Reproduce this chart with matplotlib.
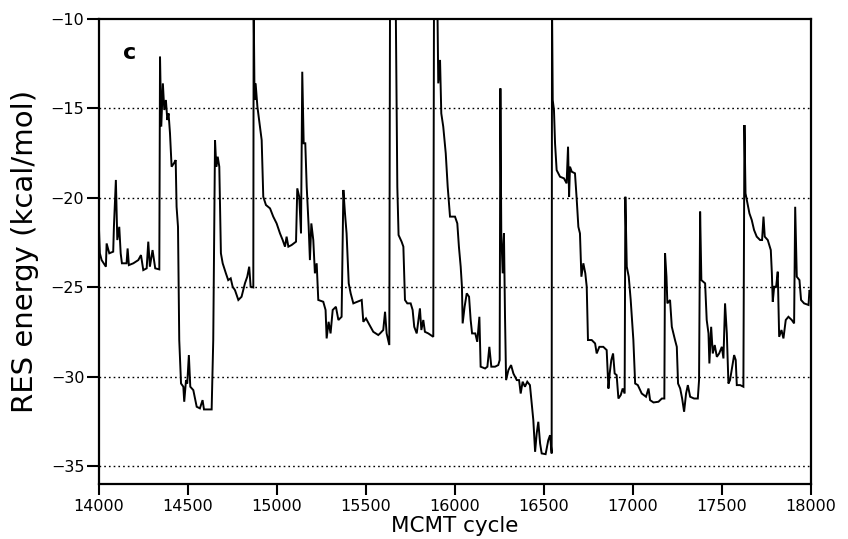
import matplotlib
matplotlib.use("Agg")
import matplotlib.pyplot as plt
import numpy as np

# MCMT cycle (x) and RES energy (kcal/mol) (y)
cycle = [
    14000, 14005, 14015, 14039, 14043, 14058, 14080, 14084, 14095, 14103,
    14114, 14122, 14129, 14155, 14161, 14168, 14193, 14221, 14236, 14249,
    14268, 14277, 14286, 14301, 14316, 14339, 14343, 14350, 14359, 14367,
    14376, 14384, 14391, 14399, 14408, 14421, 14431, 14436, 14444, 14451,
    14461, 14474, 14479, 14489, 14496, 14505, 14513, 14530, 14549, 14567,
    14582, 14590, 14633, 14642, 14652, 14659, 14667, 14676, 14685, 14695,
    14713, 14726, 14740, 14751, 14764, 14783, 14801, 14820, 14833, 14844,
    14852, 14867, 14869, 14874, 14880, 14890, 14904, 14914, 14923, 14938,
    14961, 14979, 14998, 15017, 15032, 15045, 15054, 15064, 15082, 15107,
    15114, 15125, 15135, 15142, 15150, 15159, 15167, 15178, 15185, 15193,
    15204, 15213, 15223, 15232, 15260, 15273, 15279, 15290, 15301, 15313,
    15331, 15345, 15363, 15373, 15382, 15391, 15403, 15414, 15429, 15451,
    15476, 15485, 15500, 15515, 15541, 15569, 15579, 15597, 15607, 15616,
    15631, 15635, 15667, 15676, 15683, 15700, 15710, 15719, 15732, 15751,
    15762, 15771, 15785, 15803, 15811, 15822, 15831, 15850, 15878, 15882,
    15901, 15906, 15916, 15923, 15934, 15948, 15959, 15972, 16000, 16013,
    16022, 16032, 16039, 16043, 16054, 16066, 16079, 16088, 16096, 16114,
    16125, 16137, 16144, 16169, 16182, 16193, 16204, 16225, 16243, 16251,
    16255, 16260, 16268, 16275, 16281, 16287, 16300, 16315, 16328, 16347,
    16360, 16369, 16380, 16393, 16406, 16421, 16431, 16440, 16450, 16459,
    16468, 16478, 16487, 16509, 16524, 16534, 16543, 16545, 16549, 16556,
    16562, 16571, 16590, 16612, 16627, 16635, 16641, 16646, 16656, 16674,
    16684, 16693, 16702, 16710, 16721, 16732, 16740, 16747, 16768, 16787,
    16796, 16811, 16833, 16852, 16862, 16869, 16878, 16888, 16897, 16908,
    16918, 16931, 16942, 16953, 16957, 16965, 16976, 16987, 17002, 17012,
    17027, 17049, 17073, 17087, 17096, 17115, 17143, 17162, 17176, 17180,
    17188, 17193, 17208, 17218, 17236, 17246, 17253, 17265, 17276, 17287,
    17298, 17308, 17321, 17343, 17364, 17371, 17377, 17384, 17405, 17414,
    17424, 17429, 17439, 17448, 17459, 17471, 17484, 17499, 17508, 17517,
    17527, 17536, 17545, 17557, 17568, 17577, 17583, 17602, 17620, 17626,
    17632, 17643, 17654, 17667, 17680, 17695, 17714, 17725, 17733, 17740,
    17757, 17774, 17780, 17785, 17793, 17804, 17813, 17821, 17834, 17845,
    17858, 17873, 17892, 17905, 17911, 17920, 17935, 17944, 17961, 17986,
    17991, 18000,
]
energy = [
    -21.7, -23.1, -23.48, -23.85, -22.55, -23.10, -23.01, -21.62, -19.00, -22.36,
    -21.62, -23.10, -23.66, -23.66, -22.83, -23.76, -23.66, -23.48, -23.20, -24.04,
    -23.94, -22.45, -23.85, -22.92, -23.94, -24.00, -12.11, -16.02, -13.60, -15.09,
    -14.53, -15.65, -15.28, -16.39, -18.26, -18.07, -17.89, -20.50, -21.62, -27.95,
    -30.38, -30.56, -31.40, -30.19, -30.38, -28.79, -30.56, -30.75, -31.68, -31.77,
    -31.31, -31.83, -31.83, -27.95, -16.77, -18.26, -17.70, -18.26, -23.10, -23.66,
    -24.22, -24.60, -24.50, -24.97, -25.16, -25.71, -25.53, -24.78, -24.41, -23.85,
    -24.97, -25.01, -9.0, -14.53, -13.60, -14.90, -16.02, -16.77, -19.94, -20.40,
    -20.59, -21.05, -21.43, -21.99, -22.36, -22.73, -22.17, -22.73, -22.64, -22.45,
    -19.47, -19.94, -21.99, -12.95, -16.95, -16.95, -19.38, -21.62, -23.48, -21.43,
    -22.36, -24.22, -23.66, -25.71, -25.81, -26.27, -27.86, -26.93, -27.58, -26.27,
    -26.09, -26.83, -26.65, -19.56, -20.87, -21.99, -24.78, -25.34, -25.90, -25.81,
    -25.71, -26.93, -26.74, -27.02, -27.49, -27.67, -27.58, -27.39, -26.37, -27.58,
    -28.23, -9.0, -9.0, -19.38, -22.08, -22.45, -22.73, -25.71, -25.90, -25.90,
    -26.27, -27.21, -27.58, -26.18, -27.39, -26.83, -27.49, -27.58, -27.77, -9.0,
    -9.0, -13.60, -12.29, -15.28, -16.02, -17.51, -19.38, -21.05, -21.05, -21.43,
    -22.73, -23.85, -24.97, -27.02, -26.09, -25.34, -25.53, -26.83, -27.58, -27.58,
    -28.05, -26.65, -29.44, -29.54, -29.44, -28.33, -29.44, -29.44, -29.35, -29.07,
    -13.88, -21.99, -24.22, -21.99, -26.65, -30.19, -29.63, -29.35, -29.82, -30.19,
    -30.19, -30.94, -30.28, -30.56, -30.28, -30.47, -31.49, -32.43, -34.20, -33.17,
    -32.52, -33.73, -34.29, -34.33, -33.55, -33.27, -34.29, -9.0, -14.53, -15.09,
    -16.95, -18.45, -18.82, -18.91, -19.19, -17.14, -19.94, -18.26, -18.54, -18.63,
    -20.12, -21.62, -21.99, -24.41, -23.66, -24.22, -24.97, -27.95, -27.95, -28.14,
    -28.70, -28.33, -28.33, -28.51, -30.66, -29.82, -29.07, -28.70, -29.82, -29.91,
    -31.22, -31.03, -30.66, -30.94, -19.94, -23.85, -24.41, -25.71, -27.95, -30.38,
    -30.47, -30.94, -31.12, -30.66, -31.31, -31.44, -31.40, -31.22, -31.22, -23.10,
    -24.41, -25.90, -25.71, -27.21, -27.95, -28.33, -30.38, -30.66, -31.22, -31.96,
    -30.94, -30.47, -31.12, -31.22, -31.22, -30.19, -20.77, -24.60, -24.78, -26.83,
    -27.58, -29.26, -27.21, -28.70, -28.23, -28.89, -28.70, -28.33, -28.98, -25.90,
    -27.58, -30.38, -30.19, -29.44, -28.79, -29.07, -30.47, -30.47, -30.56, -15.93,
    -19.75, -20.31, -20.87, -21.24, -21.80, -22.17, -22.36, -22.36, -21.05, -22.17,
    -22.36, -22.92, -24.22, -25.81, -24.97, -24.97, -24.13, -27.77, -27.39, -27.86,
    -26.83, -26.65, -26.83, -27.02, -20.50, -24.41, -24.60, -25.71, -25.90, -25.99,
    -25.16, -25.3,
]

xticks = [14000, 14500, 15000, 15500, 16000, 16500, 17000, 17500, 18000]
yticks = [-10, -15, -20, -25, -30, -35]
grid_levels = [-15, -20, -25, -30, -35]
panel_label = "c"

plt.rcParams['font.family'] = ['DejaVu Sans']

fig = plt.figure(figsize=(8.48, 5.39), dpi=100)
ax = fig.add_axes([0.1167, 0.102, 0.9564 - 0.1167, 0.9648 - 0.102])

ax.plot(cycle, energy, color='black', linewidth=1.4, solid_joinstyle='miter')

for g in grid_levels:
    ax.axhline(g, color='black', linewidth=1.0, linestyle=(0, (1.2, 2.2)), zorder=0)

ax.set_xlim(14000, 18000)
ax.set_ylim(-36, -10)
ax.set_xticks(xticks)
ax.set_yticks(yticks)
ax.tick_params(axis='x', direction='out', length=8, width=1.5, pad=3, labelsize=11.5)
ax.tick_params(axis='y', direction='out', length=8.5, width=1.5, pad=2, labelsize=11.5)
ax.minorticks_off()

for s in ax.spines.values():
    s.set_linewidth(1.6)

ax.set_xlabel("MCMT cycle", fontsize=15.5)
ax.xaxis.set_label_coords(0.5, -0.068)
ax.set_ylabel("RES energy (kcal/mol)", fontsize=21)
ax.yaxis.set_label_coords(-0.084, 0.5)

ax.text(14175, -11.9, panel_label, fontsize=16, fontweight='bold', ha='center', va='center')

fig.savefig("out.png", dpi=100)
